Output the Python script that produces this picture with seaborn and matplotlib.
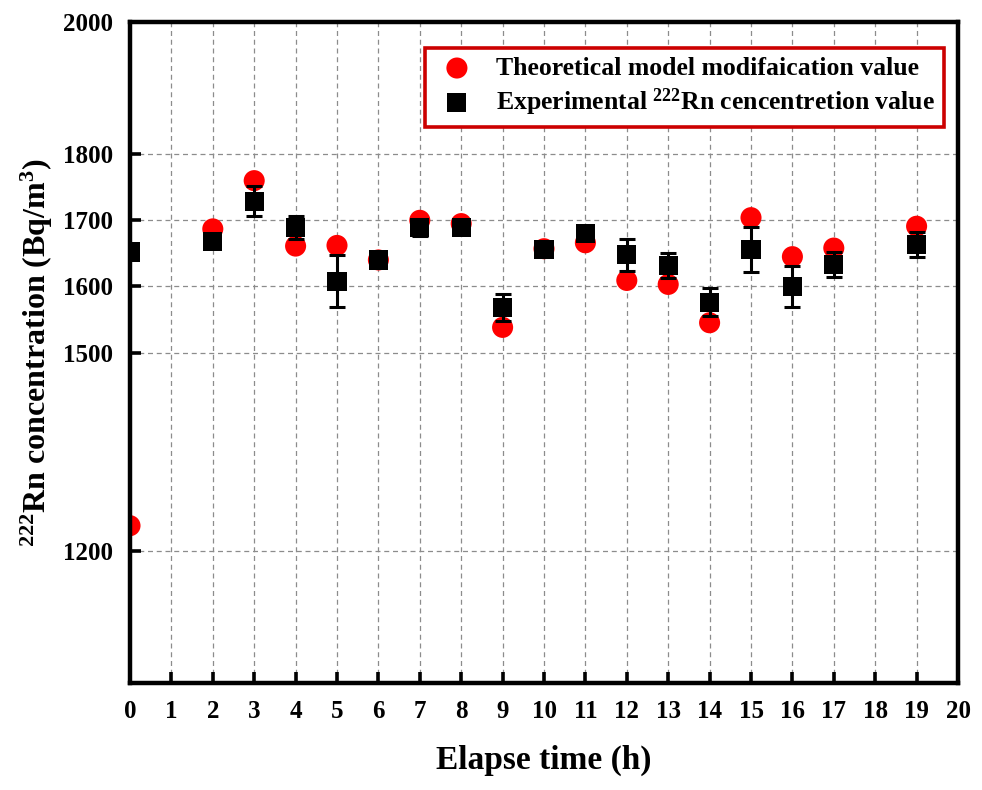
import matplotlib
matplotlib.use("Agg")
import matplotlib.pyplot as plt
import seaborn as sns
import pandas as pd

# values
theory_time = [0, 2, 3, 4, 5, 6, 7, 8, 9, 10, 11, 12, 13, 14, 15, 16, 17, 19]
theory_value = [1238, 1687, 1760, 1661, 1662, 1640, 1700, 1695, 1538, 1657,
                1666, 1609, 1603, 1545, 1704, 1645, 1658, 1691]

exp_time = [0, 2, 3, 4, 5, 6, 7, 8, 9, 10, 11, 12, 13, 14, 15, 16, 17, 19]
exp_value = [1652, 1668, 1729, 1689, 1608, 1640, 1689, 1689, 1568, 1656,
             1680, 1648, 1632, 1576, 1656, 1600, 1633, 1664]
exp_error = [0, 6, 23, 17, 39, 0, 13, 8, 20, 0, 8, 24, 19, 21, 34, 31, 19, 19]

y_ticks = [1200, 1500, 1600, 1700, 1800, 2000]
y_minor_ticks = [1365, 1940]
x_ticks = list(range(0, 21))

theory_df = pd.DataFrame({"time": theory_time, "value": theory_value})
exp_df = pd.DataFrame({"time": exp_time, "value": exp_value, "err": exp_error})

sns.set_style("white")
plt.rcParams["font.family"] = ["Liberation Serif", "DejaVu Serif"]
plt.rcParams["font.weight"] = "bold"
plt.rcParams["text.color"] = "black"
plt.rcParams["axes.labelcolor"] = "black"
plt.rcParams["xtick.color"] = "black"
plt.rcParams["ytick.color"] = "black"
plt.rcParams["mathtext.fontset"] = "custom"
plt.rcParams["mathtext.rm"] = "Liberation Serif:bold"
plt.rcParams["mathtext.bf"] = "Liberation Serif:bold"
plt.rcParams["mathtext.it"] = "Liberation Serif:bold:italic"

fig = plt.figure(figsize=(9.82, 7.90), dpi=100)
ax = fig.add_axes([130 / 982, 1 - 683 / 790, 828 / 982, 661 / 790])

ax.errorbar(exp_df["time"], exp_df["value"], yerr=exp_df["err"], fmt="none",
            ecolor="black", elinewidth=2.2, capsize=6, capthick=2.2, zorder=3)
sns.scatterplot(data=theory_df, x="time", y="value", ax=ax, marker="o", s=230,
                color="#ff0000", edgecolor="none", zorder=2,
                label="Theoretical model modifaication value")
sns.scatterplot(data=exp_df, x="time", y="value", ax=ax, marker="s", s=190,
                color="black", edgecolor="none", zorder=4,
                label="Experimental $^{222}$Rn cencentretion value")

ax.set_xlim(0, 20)
ax.set_ylim(1000, 2000)
ax.set_xticks(x_ticks)
ax.set_yticks(y_ticks)
ax.set_yticks(y_minor_ticks, minor=True)

ax.grid(True, which="major", linestyle=(0, (4, 3)), color="#8c8c8c", linewidth=0.9)
ax.set_axisbelow(True)

for spine in ax.spines.values():
    spine.set_linewidth(3.2)
    spine.set_color("black")

ax.tick_params(axis="both", which="major", direction="in", length=8, width=2.6,
               labelsize=18, colors="black")
ax.tick_params(axis="y", which="minor", direction="in", length=4, width=2.2)
ax.tick_params(axis="x", which="major", pad=12)
ax.tick_params(axis="y", which="major", left=True, pad=12)
ax.tick_params(axis="x", which="major", bottom=True)
for lab in ax.get_xticklabels() + ax.get_yticklabels():
    lab.set_fontweight("bold")
ax.get_xticklines()[0].set_visible(False)

ax.set_xlabel("Elapse time (h)", fontsize=24, fontweight="bold", labelpad=16,
              color="black")
ax.set_ylabel("$^{222}$Rn concentration (Bq/m$^3$)", fontsize=23,
              fontweight="bold", labelpad=6, color="black")

leg = ax.legend(loc="upper right", bbox_to_anchor=(0.983, 0.961), borderaxespad=0,
                frameon=True, fancybox=False, handletextpad=0.62,
                borderpad=0.35, labelspacing=0.25, handlelength=1.8,
                prop={"family": "Liberation Serif", "weight": "bold", "size": 18.5})
leg.get_frame().set_edgecolor("#cc0000")
leg.get_frame().set_linewidth(2.6)
leg.get_frame().set_alpha(1)
for t in leg.get_texts():
    t.set_color("black")

fig.savefig("out.png", dpi=100)
